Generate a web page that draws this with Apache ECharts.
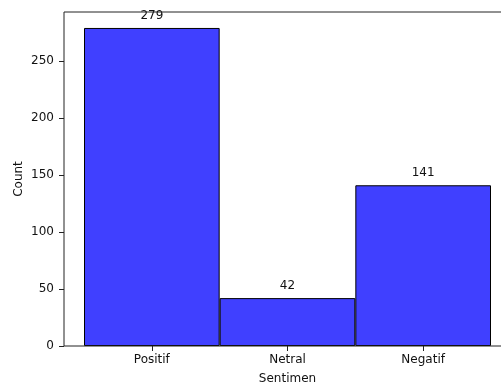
<!DOCTYPE html>
<html>
<head>
<meta charset="utf-8">
<script src="https://cdn.jsdelivr.net/npm/echarts@6/dist/echarts.min.js"></script>
<style>html,body{margin:0;padding:0;background:#fff;}#c{width:501px;height:383px;}</style>
</head>
<body>
<div id="c"></div>
<script>
const categories = ['Positif', 'Netral', 'Negatif'];
const counts = [279, 42, 141];
const yTicks = [0, 50, 100, 150, 200, 250];
const yMax = 293;

const FONT = 'DejaVu Sans';
const chart = echarts.init(document.getElementById('c'), null, {renderer: 'canvas'});
chart.setOption({
  animation: false,
  backgroundColor: '#fff',
  textStyle: {fontFamily: FONT},
  grid: [
    {left: 84, right: 10, top: 12, bottom: 37, show: false, outerBoundsMode: 'none', containLabel: false},
    {left: 64, right: -10, top: 12, bottom: 37, show: true, borderColor: '#222', borderWidth: 1, backgroundColor: 'transparent', z: 5, outerBoundsMode: 'none', containLabel: false}
  ],
  xAxis: [
    {
      type: 'category', gridIndex: 0, data: categories, boundaryGap: true,
      axisLine: {show: false},
      axisTick: {show: true, alignWithLabel: true, length: 5, lineStyle: {color: '#222'}},
      axisLabel: {color: '#111', fontSize: 12, fontFamily: FONT, margin: 8},
      name: 'Sentimen', nameLocation: 'middle', nameGap: 27, nameMoveOverlap: false,
      nameTextStyle: {color: '#111', fontSize: 12, fontFamily: FONT}
    },
    {type: 'value', gridIndex: 1, show: false, min: 0, max: 1}
  ],
  yAxis: [
    {
      type: 'value', gridIndex: 0, min: 0, max: yMax, offset: 20,
      axisLine: {show: false},
      splitLine: {show: false},
      axisTick: {show: true, length: 5, customValues: yTicks, lineStyle: {color: '#222'}},
      axisLabel: {color: '#111', fontSize: 12, fontFamily: FONT, margin: 10, customValues: yTicks},
      name: 'Count', nameLocation: 'middle', nameGap: 39, nameMoveOverlap: false,
      nameTextStyle: {color: '#111', fontSize: 12, fontFamily: FONT}
    },
    {type: 'value', gridIndex: 1, show: false, min: 0, max: 1}
  ],
  series: [{
    type: 'bar', xAxisIndex: 0, yAxisIndex: 0,
    data: counts,
    barWidth: '100%', barCategoryGap: 0,
    itemStyle: {color: '#4040ff', borderColor: '#000', borderWidth: 1},
    label: {show: true, position: 'top', distance: 6, color: '#111', fontSize: 12, fontFamily: FONT}
  }]
});
</script>
</body>
</html>
